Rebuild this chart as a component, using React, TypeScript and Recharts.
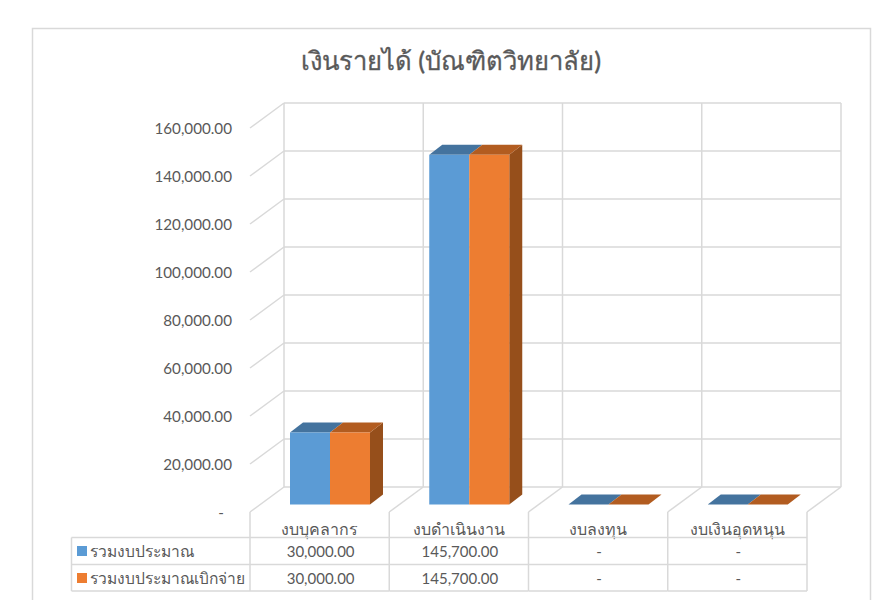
import { Bar, BarChart, CartesianGrid, XAxis, YAxis } from "recharts";

const title = "เงินรายได้ (บัณฑิตวิทยาลัย)";
const categories = ["งบบุคลากร", "งบดำเนินงาน", "งบลงทุน", "งบเงินอุดหนุน"];
const budget = [30000, 145700, 0, 0];
const spent = [30000, 145700, 0, 0];
const yTicks = [0, 20000, 40000, 60000, 80000, 100000, 120000, 140000, 160000];
const seriesNames = ["รวมงบประมาณ", "รวมงบประมาณเบิกจ่าย"];

const rows = categories.map((name, i) => ({ name, budget: budget[i], spent: spent[i] }));

const FONT = "Lato, 'Noto Sans', sans-serif";
const TEXT = "#595959";
const LINE = "#d9d9d9";
const BLUE = ["#5b9bd5", "#44739e"];
const ORANGE = ["#ed7d31", "#b25c20"];
const ORANGE_SIDE = "#964f1b";

// fake 3D: floor runs from the back wall to the front edge
const WALL_DX = -34;
const WALL_DY = 25;
const BAR_SHIFT_X = -24;
const BAR_SHIFT_Y = 17.5;
const DEPTH_X = 13;
const DEPTH_Y = -10;

const COL_W = 139.25;
const ROW_Y = [537.5, 564.5, 591];

const money = (v: number) =>
  v === 0 ? "-" : v.toLocaleString("en-US", { minimumFractionDigits: 2, maximumFractionDigits: 2 });

function Bar3D(props: any) {
  const { x, y, width, height, fill, top, side } = props;
  const fx = x + BAR_SHIFT_X;
  const fy = y + BAR_SHIFT_Y;
  const bottom = fy + height;
  return (
    <g>
      {side && (
        <polygon
          points={`${fx + width},${fy} ${fx + width + DEPTH_X},${fy + DEPTH_Y} ${fx + width + DEPTH_X},${bottom + DEPTH_Y} ${fx + width},${bottom}`}
          fill={side}
        />
      )}
      <polygon
        points={`${fx},${fy} ${fx + DEPTH_X},${fy + DEPTH_Y} ${fx + width + DEPTH_X},${fy + DEPTH_Y} ${fx + width},${fy}`}
        fill={top}
      />
      <rect x={fx} y={fy} width={width} height={height} fill={fill} />
    </g>
  );
}

function ValueTick({ x, y, payload }: any) {
  const v = payload.value;
  return (
    <g>
      {v !== 0 && <line x1={x} y1={y} x2={x + WALL_DX} y2={y + WALL_DY} stroke={LINE} strokeWidth={1.5} />}
      <text x={v === 0 ? 224 : 232} y={y + WALL_DY} dy={6} textAnchor="end" fontSize={15.2} fontFamily={FONT} fill={TEXT}>
        {money(v)}
      </text>
    </g>
  );
}

function CategoryTick({ x, payload, index }: any) {
  const left = x - COL_W / 2;
  const backY = 487;
  const fx = left + WALL_DX;
  const fy = backY + WALL_DY;
  const cx = x + WALL_DX;
  const cell = (v: number, r: number) => (
    <text x={cx + 1} y={ROW_Y[r] + 19} textAnchor="middle" fontSize={15} fontFamily={FONT} fill={TEXT}>
      {money(v)}
    </text>
  );
  return (
    <g>
      <line x1={left} y1={backY} x2={fx} y2={fy} stroke={LINE} strokeWidth={1.5} />
      <line x1={fx} y1={fy} x2={fx} y2={ROW_Y[2]} stroke={LINE} strokeWidth={1.5} />
      {index === categories.length - 1 && (
        <>
          <line x1={left + COL_W} y1={backY} x2={fx + COL_W} y2={fy} stroke={LINE} strokeWidth={1.5} />
          <line x1={fx + COL_W} y1={fy} x2={fx + COL_W} y2={ROW_Y[2]} stroke={LINE} strokeWidth={1.5} />
        </>
      )}
      <text x={cx} y={535} textAnchor="middle" fontSize={16} fontFamily={FONT} fill={TEXT}>
        {payload.value}
      </text>
      {ROW_Y.map((ry) => (
        <line key={ry} x1={fx} y1={ry} x2={fx + COL_W} y2={ry} stroke={LINE} strokeWidth={1.5} />
      ))}
      {cell(budget[index], 0)}
      {cell(spent[index], 1)}
    </g>
  );
}

export default function App() {
  return (
    <div style={{ position: "absolute", left: 0, top: 0, width: 877, height: 600, background: "#fff" }}>
      <BarChart
        width={877}
        height={600}
        data={rows}
        margin={{ top: 103, right: 36, bottom: 83, left: 184 }}
        barSize={40}
        barGap={0}
      >
        <rect x={32.5} y={28.5} width={838} height={620} fill="none" stroke={LINE} strokeWidth={1.5} />
        <text x={451} y={70} textAnchor="middle" fontSize={25.6} fontWeight={500} fontFamily={FONT} fill={TEXT} stroke={TEXT} strokeWidth={0.3}>
          {title}
        </text>
        <CartesianGrid
          stroke={LINE}
          strokeWidth={1.5}
          verticalCoordinatesGenerator={({ offset }: any) =>
            categories.map((_, i) => offset.left + (i * offset.width) / categories.length).concat(offset.left + offset.width)
          }
        />
        <XAxis
          dataKey="name"
          height={30}
          interval={0}
          axisLine={false}
          tickLine={false}
          tick={<CategoryTick />}
        />
        <YAxis
          width={100}
          domain={[0, 160000]}
          ticks={yTicks}
          interval={0}
          axisLine={false}
          tickLine={false}
          tickSize={0}
          tickMargin={0}
          tick={<ValueTick />}
        />
        <Bar
          dataKey="budget"
          fill={BLUE[0]}
          isAnimationActive={false}
          shape={(p: any) => <Bar3D {...p} top={BLUE[1]} />}
        />
        <Bar
          dataKey="spent"
          fill={ORANGE[0]}
          isAnimationActive={false}
          shape={(p: any) => <Bar3D {...p} top={ORANGE[1]} side={ORANGE_SIDE} />}
        />
        <line x1={71.5} y1={ROW_Y[0]} x2={250} y2={ROW_Y[0]} stroke={LINE} strokeWidth={1.5} />
        <line x1={71.5} y1={ROW_Y[1]} x2={250} y2={ROW_Y[1]} stroke={LINE} strokeWidth={1.5} />
        <line x1={71.5} y1={ROW_Y[2]} x2={250} y2={ROW_Y[2]} stroke={LINE} strokeWidth={1.5} />
        <line x1={71.5} y1={ROW_Y[0]} x2={71.5} y2={ROW_Y[2]} stroke={LINE} strokeWidth={1.5} />
        {seriesNames.map((name, i) => (
          <g key={name}>
            <rect x={77} y={ROW_Y[i] + 8.5} width={10} height={10} fill={i === 0 ? BLUE[0] : ORANGE[0]} />
            <text x={90} y={ROW_Y[i] + 19} fontSize={15.6} fontFamily={FONT} fill={TEXT}>
              {name}
            </text>
          </g>
        ))}
      </BarChart>
    </div>
  );
}
